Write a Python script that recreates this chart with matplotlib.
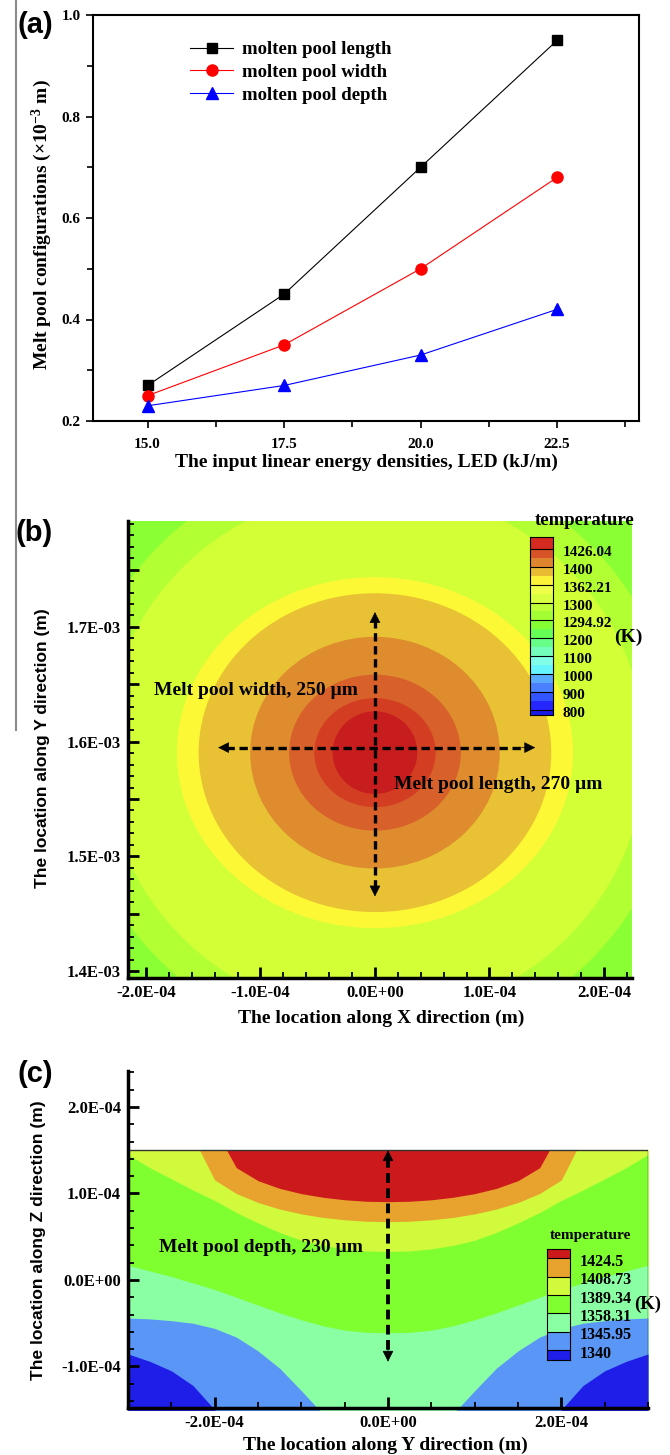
import numpy as np
import matplotlib
matplotlib.use('Agg')
import matplotlib.pyplot as plt
from matplotlib.patches import Ellipse, Rectangle
from matplotlib.lines import Line2D
from matplotlib.ticker import MultipleLocator, FuncFormatter

plt.rcParams['font.family'] = ['Liberation Serif', 'DejaVu Serif']
plt.rcParams['font.weight'] = 'bold'
plt.rcParams['mathtext.fontset'] = 'custom'
plt.rcParams['mathtext.rm'] = 'Liberation Serif:bold'
plt.rcParams['mathtext.default'] = 'rm'

# (a) melt pool size against linear energy density
led = [15.0, 17.5, 20.0, 22.5]
pool_length = [0.27, 0.45, 0.70, 0.95]
pool_width = [0.25, 0.35, 0.50, 0.68]
pool_depth = [0.23, 0.27, 0.33, 0.42]

# (b) top view: contour rings, semi axes in 1e-4 m, inner -> outer
ring_rx = [0.37, 0.53, 0.75, 1.09, 1.54, 1.73, 2.36, 2.64]
ring_ry = [0.36, 0.475, 0.68, 1.01, 1.39, 1.53, 2.30, 2.58]
pool_center_y = 1.5904e-3
b_legend_labels = ['1426.04', '1400', '1362.21', '1300', '1294.92',
                   '1200', '1100', '1000', '900', '800']

# (c) side view: band boundaries z (1e-4 m) read at |y| = 0 ... 3 (1e-4 m)
half_y = [0.0, 0.25, 0.5, 0.75, 1.0, 1.25, 1.5, 1.75, 2.0, 2.25, 2.5, 2.75, 3.0]
z_1340 = [-2.6, -2.55, -2.5, -2.4, -2.3, -2.2, -2.0, -1.75, -1.5, -1.22, -1.05, -0.94, -0.855]
z_1345 = [-2.0, -1.95, -1.8, -1.55, -1.28, -1.02, -0.82, -0.66, -0.56, -0.50, -0.47, -0.45, -0.44]
z_1358 = [-0.61, -0.605, -0.58, -0.53, -0.46, -0.38, -0.29, -0.20, -0.11, -0.035, 0.04, 0.105, 0.17]
z_1389 = [0.33, 0.335, 0.36, 0.40, 0.46, 0.55, 0.66, 0.78, 0.92, 1.04, 1.17, 1.30, 1.45]
z_1408 = [0.674, 0.679, 0.696, 0.723, 0.764, 0.820, 0.896, 1.0, 1.156, 1.65, 1.9, 2.15, 2.4]
z_1424 = [0.905, 0.910, 0.927, 0.956, 0.998, 1.059, 1.148, 1.298, 1.75, 2.0, 2.2, 2.4, 2.6]
c_legend_labels = ['1340', '1345.95', '1358.31', '1389.34', '1408.73', '1424.5']

# annotation arrows (data coords)
b_vert_arrow = ((0.0, 1.465e-3), (0.0, 1.713e-3))
b_horiz_arrow = ((-1.37e-4, 1.5948e-3), (1.40e-4, 1.5948e-3))
c_vert_arrow = ((0.0, 1.5e-4), (0.0, -0.945e-4))

ring_colors = ['#c81d1e', '#d33e22', '#d8602a', '#de8c2e', '#e8c234',
               '#fdf836', '#d2ff36', '#b2ff33']
outer_color = '#8aff33'
cb_top = '#d42a20'
cb_pairs = [('#d65428', '#de852d'), ('#e8bb33', '#fdf237'), ('#f0ff4a', '#d8ff40'),
            ('#bfff38', '#a3ff33'), ('#85ff33', '#66ff55'), ('#66ff88', '#73ffbb'),
            ('#80ffe6', '#66f5ff'), ('#59aaff', '#4a80ff'), ('#3355ff', '#2626ff')]
cb_bottom = '#1a1ae6'
c_colors = ['#1e1ee8', '#5a96f5', '#8affa4', '#80ff30', '#d2fa3c', '#e8a32e', '#cc1a1c']

W, H = 670, 1455


def box(l, t, r, b):
    return [l / W, 1 - b / H, (r - l) / W, (b - t) / H]


def ftext(x, y, s, **kw):
    fig.text(x / W, 1 - y / H, s, ha='center', va='center', **kw)


def sci_fmt(v, pos):
    k = round(v / 1e-4)
    if abs(v / 1e-4 - k) > 1e-6:
        return ''
    if k == 0:
        return '0.0E+00'
    return '{:.1E}'.format(k * 1e-4)


def dashed_double_arrow(ax, p0, p1, head, lw=2.4):
    p0, p1 = np.array(p0), np.array(p1)
    d = (p1 - p0) / np.linalg.norm(p1 - p0)
    a = p0 + d * head * 0.6
    b = p1 - d * head * 0.6
    ax.plot([a[0], b[0]], [a[1], b[1]], color='k', lw=lw,
            ls=(0, (2.5, 1.4)), dash_capstyle='butt')
    for tip, back in ((p0, p0 + d * head), (p1, p1 - d * head)):
        ax.annotate('', xy=tip, xytext=back,
                    arrowprops=dict(arrowstyle='-|>,head_length=0.7,head_width=0.35',
                                    color='k', lw=0.5, shrinkA=0, shrinkB=0))


def style_tecplot(ax):
    for s in ('top', 'right'):
        ax.spines[s].set_visible(False)
    for s in ('left', 'bottom'):
        ax.spines[s].set_linewidth(2.5)
    ax.tick_params(which='both', direction='in', top=False, right=False, labelsize=12)
    ax.tick_params(which='major', length=8, width=2)
    ax.tick_params(which='minor', length=4.5, width=1.3)
    ax.tick_params(axis='y', pad=5)
    ax.tick_params(axis='x', pad=5)


fig = plt.figure(figsize=(6.7, 14.55), dpi=100)

# ---------------- (a) ----------------
ax = fig.add_axes(box(93, 15, 639, 421))
ax.plot(led, pool_length, color='k', lw=0.8, marker='s', ms=7.5, label='molten pool length')
ax.plot(led, pool_width, color='#ff0000', lw=0.8, marker='o', ms=8, label='molten pool width')
ax.plot(led, pool_depth, color='#0000ff', lw=0.8, marker='^', ms=8.5, label='molten pool depth')
ax.set_xlim(14, 24)
ax.set_ylim(0.2, 1.0)
ax.xaxis.set_major_locator(MultipleLocator(2.5))
ax.xaxis.set_minor_locator(MultipleLocator(1.25))
ax.yaxis.set_major_locator(MultipleLocator(0.2))
ax.yaxis.set_minor_locator(MultipleLocator(0.1))
ax.xaxis.set_major_formatter(FuncFormatter(lambda v, p: '%.1f' % v))
ax.yaxis.set_major_formatter(FuncFormatter(lambda v, p: '%.1f' % v))
for s in ax.spines.values():
    s.set_linewidth(1.5)
ax.tick_params(which='both', direction='out', labelsize=11, width=1.2)
ax.tick_params(which='major', length=5)
ax.tick_params(which='minor', length=4)
ax.tick_params(axis='y', pad=4)
ax.tick_params(axis='x', pad=7)
ax.legend(loc='upper left', bbox_to_anchor=((190 - 93) / 546, 1 - (41 - 15) / 406),
          frameon=False, fontsize=13.5, handlelength=2.3, handletextpad=0.5,
          labelspacing=0.3, borderaxespad=0, borderpad=0)
ftext(366, 462, 'The input linear energy densities, LED (kJ/m)', fontsize=14)
ftext(42, 225, 'Melt pool configurations (×10$^{-3}$ m)', fontsize=14, rotation=90)
ftext(35, 25, '(a)', fontsize=21, family='Liberation Sans', weight='bold')

# ---------------- (b) ----------------
ax = fig.add_axes(box(128, 521, 632, 978))
ax.set_facecolor(outer_color)
for rx, ry, col in reversed(list(zip(ring_rx, ring_ry, ring_colors))):
    ax.add_patch(Ellipse((0.0, pool_center_y), 2 * rx * 1e-4, 2 * ry * 1e-4,
                         facecolor=col, edgecolor='none'))
ax.set_xlim(-2.157e-4, 2.245e-4)
ax.set_ylim(1.3939e-3, 1.7924e-3)
ax.xaxis.set_major_locator(MultipleLocator(1e-4))
ax.xaxis.set_minor_locator(MultipleLocator(0.2e-4))
ax.yaxis.set_major_locator(MultipleLocator(0.5e-4))
ax.yaxis.set_minor_locator(MultipleLocator(0.1e-4))
ax.xaxis.set_major_formatter(FuncFormatter(sci_fmt))
ax.yaxis.set_major_formatter(FuncFormatter(sci_fmt))
style_tecplot(ax)
dashed_double_arrow(ax, *b_vert_arrow, head=0.12e-4)
dashed_double_arrow(ax, *b_horiz_arrow, head=0.12e-4)
ax.text(-1.93e-4, 1.6445e-3, 'Melt pool width, 250 µm', fontsize=14, va='center')
ax.text(0.166e-4, 1.5625e-3, 'Melt pool length, 270 µm', fontsize=14, va='center')

cax = fig.add_axes(box(530, 537, 553, 715))
cax.set_xlim(0, 1)
cax.set_ylim(-0.3, 9.67)
cax.axhspan(-0.3, 0, color=cb_bottom, lw=0)
for i, (c_up, c_low) in enumerate(reversed(cb_pairs)):
    cax.axhspan(i, i + 0.5, color=c_low, lw=0)
    cax.axhspan(i + 0.5, i + 1, color=c_up, lw=0)
cax.axhspan(9, 9.67, color=cb_top, lw=0)
for i, lab in enumerate(reversed(b_legend_labels)):
    cax.axhline(i, color='k', lw=0.8)
    cax.text(1.43, i - 0.2, lab, fontsize=11, va='center', ha='left',
             transform=cax.get_yaxis_transform())
cax.set_xticks([])
cax.set_yticks([])
for s in cax.spines.values():
    s.set_linewidth(0.8)
ftext(585, 520, 'temperature', fontsize=13.5)
ftext(628, 637, '(K)', fontsize=14)

ftext(381, 1018, 'The location along X direction (m)', fontsize=14)
ftext(43, 748, 'The location along Y direction (m)', fontsize=12.5, rotation=90,
      family='Liberation Sans', weight='bold')
ftext(34, 533, '(b)', fontsize=21, family='Liberation Sans', weight='bold')

# ---------------- (c) ----------------
ax = fig.add_axes(box(128, 1071, 648, 1408))
ys = np.concatenate([-np.array(half_y[::-1]), np.array(half_y[1:])]) * 1e-4


def mirror(z):
    z = np.array(z)
    return np.concatenate([z[::-1], z[1:]]) * 1e-4


bounds = [mirror(z) for z in (z_1340, z_1345, z_1358, z_1389, z_1408, z_1424)]
uppers = bounds + [np.full_like(ys, 5e-4)]
clip = Rectangle((-3e-4, -1.5e-4), 6e-4, 3e-4, transform=ax.transData)
for col, up in reversed(list(zip(c_colors, uppers))):
    pc = ax.fill_between(ys, -5e-4, up, color=col, lw=0)
    pc.set_clip_path(clip)
ax.add_patch(Rectangle((-3e-4, -1.5e-4), 6e-4, 3e-4, fill=False, ec='#333333', lw=1.0))
ax.set_xlim(-3e-4, 3e-4)
ax.set_ylim(-1.48e-4, 2.416e-4)
ax.xaxis.set_major_locator(MultipleLocator(2e-4))
ax.xaxis.set_minor_locator(MultipleLocator(0.5e-4))
ax.yaxis.set_major_locator(MultipleLocator(1e-4))
ax.yaxis.set_minor_locator(MultipleLocator(0.2e-4))
ax.xaxis.set_major_formatter(FuncFormatter(sci_fmt))
ax.yaxis.set_major_formatter(FuncFormatter(sci_fmt))
style_tecplot(ax)
dashed_double_arrow(ax, *c_vert_arrow, head=0.15e-4, lw=2.8)
ax.text(-2.64e-4, 0.38e-4, 'Melt pool depth, 230 µm', fontsize=14, va='center')

cax = fig.add_axes(box(547, 1249, 570, 1360))
cax.set_xlim(0, 1)
cax.set_ylim(-0.55, 5.5)
edges = [-0.55, 0, 1, 2, 3, 4, 5, 5.5]
for i, col in enumerate(c_colors):
    cax.axhspan(edges[i], edges[i + 1], color=col, lw=0)
for i, lab in enumerate(c_legend_labels):
    cax.axhline(i, color='k', lw=0.8)
    cax.text(1.43, i - 0.2, lab, fontsize=11.5, va='center', ha='left',
             transform=cax.get_yaxis_transform())
cax.set_xticks([])
cax.set_yticks([])
for s in cax.spines.values():
    s.set_linewidth(0.8)
ftext(590, 1235, 'temperature', fontsize=11)
ftext(648, 1304, '(K)', fontsize=13.5)

ftext(385, 1445, 'The location along Y direction (m)', fontsize=14)
ftext(39, 1240, 'The location along Z direction (m)', fontsize=12.5, rotation=90,
      family='Liberation Sans', weight='bold')
ftext(35, 1074, '(c)', fontsize=21, family='Liberation Sans', weight='bold')

fig.add_artist(Line2D([16 / W, 16 / W], [1, 1 - 730 / H], color='#8c8c8c', lw=1.5))

fig.savefig('out.png', dpi=100)
